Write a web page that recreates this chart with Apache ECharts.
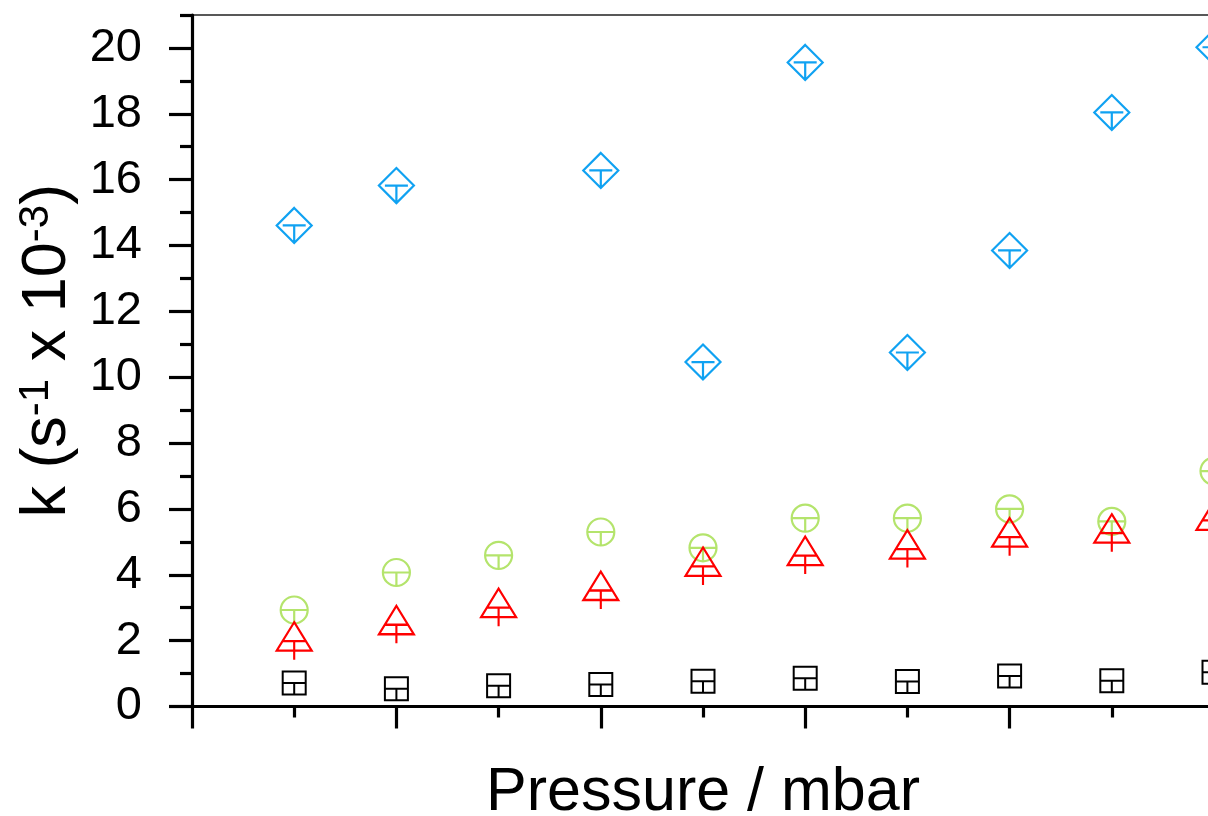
<!DOCTYPE html>
<html>
<head>
<meta charset="utf-8">
<script src="https://cdn.jsdelivr.net/npm/echarts@6/dist/echarts.min.js"></script>
<style>
  html, body { margin: 0; padding: 0; background: #fff; }
  #chart { width: 1208px; height: 816px; }
</style>
</head>
<body>
<div id="chart"></div>
<script>
// Pressure steps (x) and rate constants k (s^-1 x 10^-3) for four sample sets
const pressure   = [1, 2, 3, 4, 5, 6, 7, 8, 9, 10];
const kSquare    = [0.71, 0.54, 0.63, 0.67, 0.77, 0.86, 0.76, 0.93, 0.78, 1.04];
const kCircle    = [2.93, 4.07, 4.59, 5.30, 4.82, 5.72, 5.72, 6.00, 5.62, 7.15];
const kTriangle  = [1.99, 2.49, 3.01, 3.53, 4.26, 4.59, 4.79, 5.15, 5.27, 5.66];
const kDiamond   = [14.61, 15.82, null, 16.28, 10.46, 19.56, 10.75, 13.85, 18.04, 20.02];

// Tick positions on the k axis
const yMajorTicks = [0, 2, 4, 6, 8, 10, 12, 14, 16, 18, 20];
const yMinorTicks = [1, 3, 5, 7, 9, 11, 13, 15, 17, 19, 21];

const FONT = '"Liberation Sans", Arial, Helvetica, sans-serif';

// Open markers with a "T" stroke: a bar through the centre and a stem down to the bottom edge
const SYM = {
  square:   { path: 'path://M0,0L23,0L23,23L0,23Z M0,11.5L23,11.5 M11.5,11.5L11.5,23', size: [23, 23] },
  circle:   { path: 'path://M0,13.5A13.5,13.5,0,1,1,27,13.5A13.5,13.5,0,1,1,0,13.5Z M0,13.5L27,13.5 M13.5,13.5L13.5,27', size: [27, 27] },
  triangle: { path: 'path://M17.5,0L35,28.5L0,28.5Z M5.8,19L29.2,19 M17.5,19L17.5,37.5', size: [35, 37.5] },
  diamond:  { path: 'path://M17.5,0L35,17.5L17.5,35L0,17.5Z M6,17.5L29,17.5 M17.5,17.5L17.5,35', size: [35, 35] }
};

function points(values) {
  const out = [];
  pressure.forEach((p, i) => { if (values[i] !== null) out.push([p, values[i]]); });
  return out;
}

function markerSeries(values, sym, color, width) {
  return {
    type: 'scatter',
    data: points(values),
    symbol: sym.path,
    symbolSize: sym.size,
    clip: false,
    itemStyle: { color: 'transparent', borderColor: color, borderWidth: width, opacity: 1 },
    emphasis: { disabled: true }
  };
}

const chart = echarts.init(document.getElementById('chart'));

chart.setOption({
  backgroundColor: '#fff',
  animation: false,
  grid: {
    left: 192, right: -6, top: 15, bottom: 109.5,
    outerBoundsMode: 'none',
    containLabel: false,
    show: true, borderColor: '#222', borderWidth: 1.5, backgroundColor: 'transparent'
  },
  xAxis: {
    type: 'value',
    min: 0, max: 10, interval: 2,
    name: 'Pressure / mbar',
    nameLocation: 'middle',
    nameGap: 56,
    nameTextStyle: { fontSize: 61, color: '#000', fontFamily: FONT },
    axisLine: { onZero: false, lineStyle: { color: '#000', width: 3.2 } },
    axisTick: { length: 22, lineStyle: { color: '#000', width: 3.2 } },
    minorTick: { show: true, splitNumber: 2, length: 11, lineStyle: { color: '#000', width: 3.2 } },
    axisLabel: { show: false },
    splitLine: { show: false },
    minorSplitLine: { show: false }
  },
  yAxis: [
    {
      type: 'value',
      min: 0, max: 21, interval: 1,
      name: '{m|k (s}{s|-1}{m| x 10}{s|-3}{m|)}',
      nameLocation: 'middle',
      nameGap: 112,
      nameTextStyle: {
        color: '#000',
        padding: [0, 0, 0, 20],
        rich: {
          m: { fontSize: 63, fontFamily: FONT, color: '#000' },
          s: { fontSize: 42, fontFamily: FONT, color: '#000', verticalAlign: 'top' }
        }
      },
      axisLine: { onZero: false, lineStyle: { color: '#000', width: 3.2 } },
      axisTick: { customValues: yMajorTicks, length: 23, lineStyle: { color: '#000', width: 3.2 } },
      axisLabel: { customValues: yMajorTicks, fontSize: 47, color: '#000', fontFamily: FONT, margin: 50 },
      splitLine: { show: false }
    },
    {
      type: 'value',
      min: 0, max: 21, interval: 1,
      position: 'left',
      axisLine: { show: false },
      axisTick: { show: true, customValues: yMinorTicks, length: 12, lineStyle: { color: '#000', width: 3.2 } },
      axisLabel: { show: false },
      splitLine: { show: false }
    }
  ],
  series: [
    markerSeries(kSquare, SYM.square, '#000000', 2),
    markerSeries(kCircle, SYM.circle, '#b4e46c', 2.2),
    markerSeries(kTriangle, SYM.triangle, '#ff0000', 2.2),
    markerSeries(kDiamond, SYM.diamond, '#10a2f2', 2.2)
  ]
});
</script>
</body>
</html>
